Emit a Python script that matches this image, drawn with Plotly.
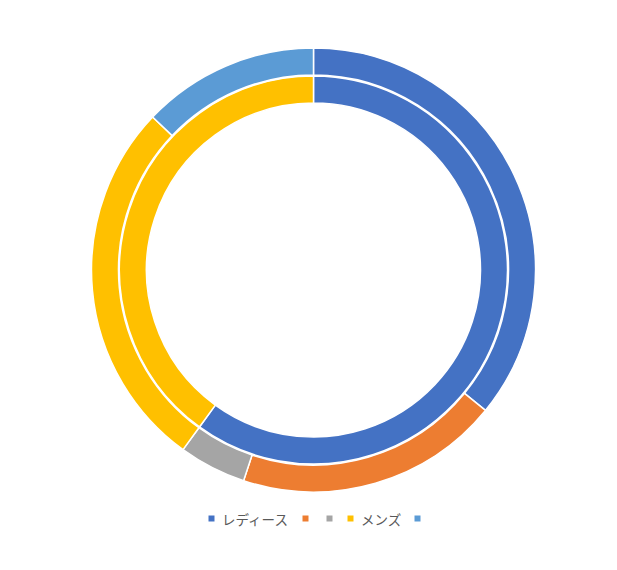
import plotly.graph_objects as go

# ---- data ----
outer_labels = ["レディース", "", "", "メンズ", ""]
outer_values = [35.9, 19.2, 4.9, 27.1, 12.9]
inner_labels = ["レディース", "メンズ"]
inner_values = [60.0, 40.0]

# ---- styles ----
outer_colors = ["#4472C4", "#ED7D31", "#A5A5A5", "#FFC000", "#5B9BD5"]
inner_colors = ["#4472C4", "#FFC000"]

W, H = 617, 570
OFF = 8.0  # page body margin offset
cx, cy = 313.5 - OFF, 270.0 - OFF
R_out, r_out = 222.0, 195.0
R_in, r_in = 194.0, 167.0


def dom(R):
    return dict(x=[(cx - R) / W, (cx + R) / W],
                y=[1 - (cy + R) / H, 1 - (cy - R) / H])


fig = go.Figure()
fig.add_trace(go.Pie(
    labels=[f"o{i}" for i in range(len(outer_values))],
    values=outer_values,
    hole=r_out / R_out,
    sort=False, direction="clockwise", rotation=0,
    marker=dict(colors=outer_colors, line=dict(color="white", width=1.5)),
    textinfo="none", hovertext=outer_labels, hoverinfo="text+value",
    domain=dom(R_out), showlegend=False,
))
fig.add_trace(go.Pie(
    labels=[f"i{i}" for i in range(len(inner_values))],
    values=inner_values,
    hole=r_in / R_in,
    sort=False, direction="clockwise", rotation=0,
    marker=dict(colors=inner_colors, line=dict(color="white", width=1.5)),
    textinfo="none", hovertext=inner_labels, hoverinfo="text+value",
    domain=dom(R_in), showlegend=False,
))

# ---- custom legend (Excel-like compact) ----
legend_marker_x = [211.5, 305.5, 329.5, 350.5, 417.5]
legend_y = 518.5 - OFF
shapes = []
annotations = []
for mx, lab, col in zip(legend_marker_x, outer_labels, outer_colors):
    mx = mx - OFF
    shapes.append(dict(type="rect", xref="paper", yref="paper",
                       x0=(mx - 3) / W, x1=(mx + 3) / W,
                       y0=1 - (legend_y + 3) / H, y1=1 - (legend_y - 3) / H,
                       fillcolor=col, line=dict(width=0)))
    if lab:
        annotations.append(dict(x=(mx + 8) / W, y=1 - legend_y / H,
                                xref="paper", yref="paper",
                                xanchor="left", yanchor="middle",
                                text=lab, showarrow=False,
                                font=dict(family="Noto Sans CJK JP", size=13.5,
                                          color="#595959")))

fig.update_layout(
    width=W, height=H,
    margin=dict(l=0, r=0, t=0, b=0),
    paper_bgcolor="white", plot_bgcolor="white",
    shapes=shapes, annotations=annotations,
    showlegend=False,
)

fig.write_html("out.html")
